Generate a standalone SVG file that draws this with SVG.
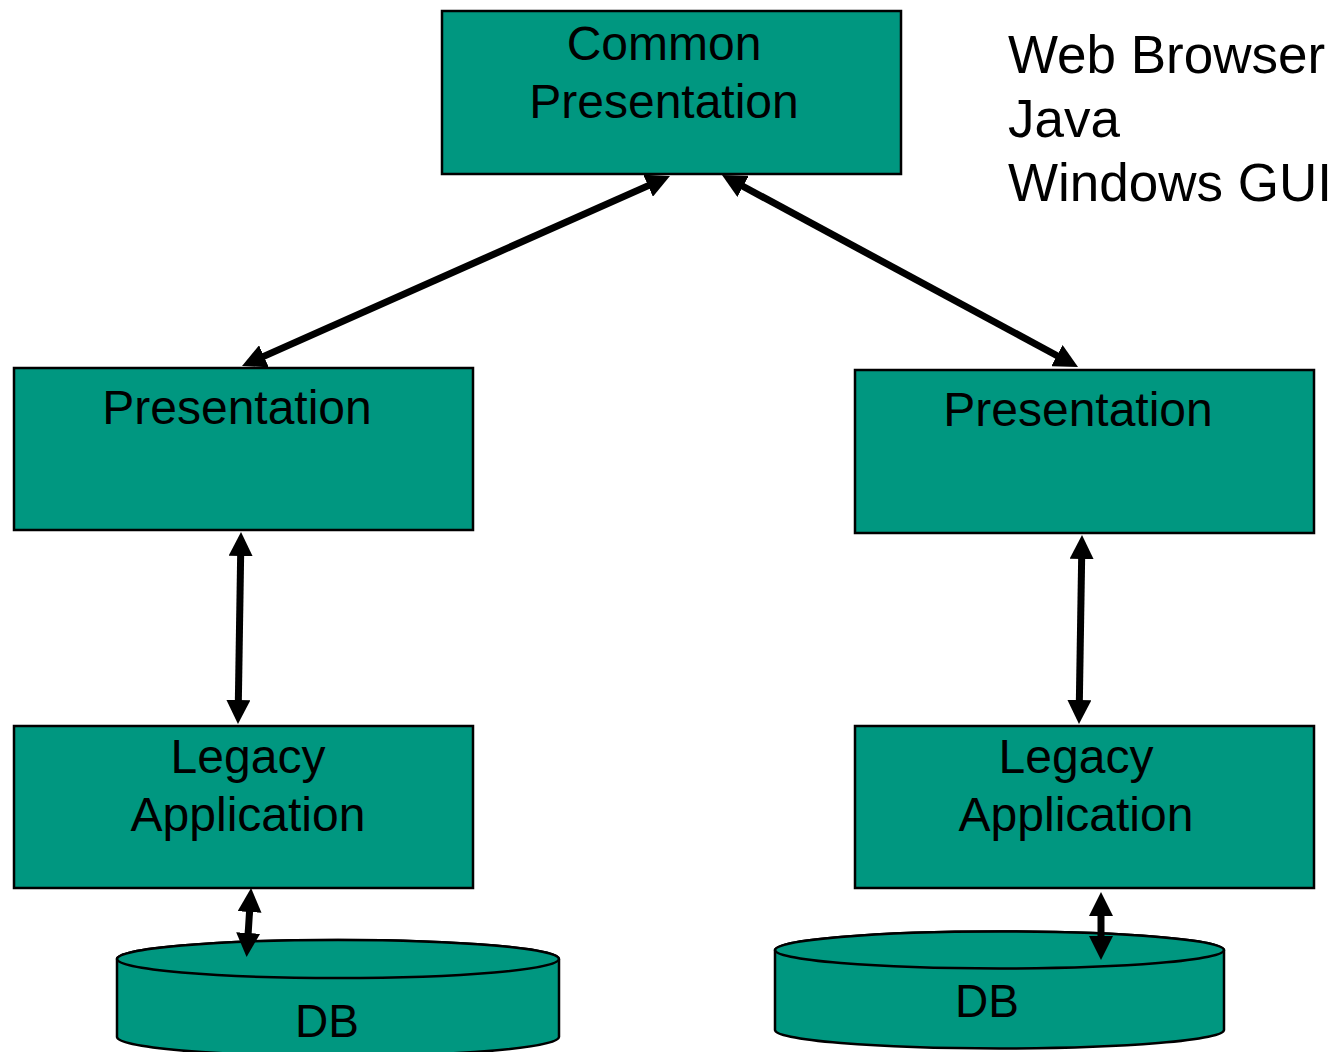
<svg xmlns="http://www.w3.org/2000/svg" width="1337" height="1052" viewBox="0 0 1337 1052">
  <style>
    .box { fill: #009780; stroke: #000; stroke-width: 2.5; }
    .lbl { font-family: "Liberation Sans", Arial, sans-serif; font-size: 48px; fill: #000; text-anchor: middle; }
    .note { font-family: "Liberation Sans", Arial, sans-serif; font-size: 53px; fill: #000; }
    .link { stroke: #000; stroke-width: 7; fill: none; marker-start: url(#head); marker-end: url(#head); }
  </style>
  <defs>
    <marker id="head" viewBox="0 0 24 24" markerWidth="24" markerHeight="24" refX="4" refY="12" markerUnits="userSpaceOnUse" orient="auto-start-reverse">
      <path d="M0,0 L24,12 L0,24 z" fill="#000"/>
    </marker>
  </defs>
  <rect width="1337" height="1052" fill="#fff"/>

  <g id="common-presentation">
    <rect class="box" x="442" y="11" width="459" height="163"/>
    <text class="lbl" x="664" y="60">Common</text>
    <text class="lbl" x="664" y="118">Presentation</text>
  </g>

  <g id="client-list">
    <text class="note" x="1008" y="73">Web Browser</text>
    <text class="note" x="1008" y="137">Java</text>
    <text class="note" x="1008" y="201">Windows GUI</text>
  </g>

  <g id="presentation-left">
    <rect class="box" x="14" y="368" width="459" height="162"/>
    <text class="lbl" x="237" y="424">Presentation</text>
  </g>

  <g id="presentation-right">
    <rect class="box" x="855" y="370" width="459" height="163"/>
    <text class="lbl" x="1078" y="426">Presentation</text>
  </g>

  <g id="legacy-left">
    <rect class="box" x="14" y="726" width="459" height="162"/>
    <text class="lbl" x="248" y="773">Legacy</text>
    <text class="lbl" x="248" y="831">Application</text>
  </g>

  <g id="legacy-right">
    <rect class="box" x="855" y="726" width="459" height="162"/>
    <text class="lbl" x="1076" y="773">Legacy</text>
    <text class="lbl" x="1076" y="831">Application</text>
  </g>

  <g id="db-left">
    <path class="box" d="M117,959 L117,1037 A221,19 0 0 0 559,1037 L559,959 A221,19 0 0 0 117,959 z"/>
    <ellipse class="box" cx="338" cy="959" rx="221" ry="19"/>
    <text class="lbl" x="327" y="1037" style="font-size:46px">DB</text>
  </g>

  <g id="db-right">
    <path class="box" d="M775,950 L775,1030 A224.5,18.5 0 0 0 1224,1030 L1224,950 A224.5,18.5 0 0 0 775,950 z"/>
    <ellipse class="box" cx="999.5" cy="950" rx="224.5" ry="18.5"/>
    <text class="lbl" x="987" y="1017" style="font-size:46px">DB</text>
  </g>

  <g id="connectors">
    <line class="link" x1="651.7" y1="184.1" x2="260.3" y2="357.9"/>
    <line class="link" x1="739.6" y1="184.5" x2="1060.4" y2="357.5"/>
    <line class="link" x1="240.7" y1="552" x2="238.3" y2="704"/>
    <line class="link" x1="1081.7" y1="555" x2="1079.3" y2="704"/>
    <line class="link" x1="249.8" y1="908" x2="247.9" y2="937"/>
    <line class="link" x1="1101" y1="912" x2="1101" y2="940"/>
  </g>
</svg>
